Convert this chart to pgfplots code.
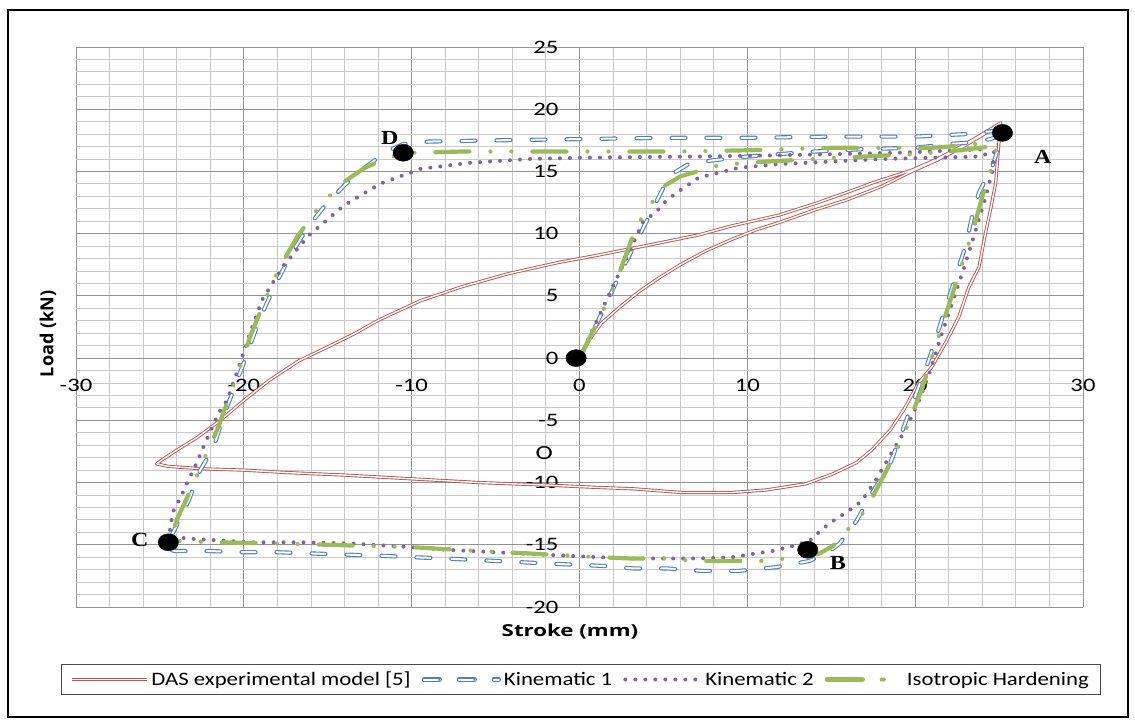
\documentclass[border=0pt]{standalone}
\usepackage{pgfplots}
\pgfplotsset{compat=1.18}
\usepackage{fontspec}
\setmainfont{Carlito}
\newfontfamily\tickfont{Carlito}[FakeStretch=1.3]
\newfontfamily\legfont{Carlito}[FakeStretch=1.2]
\newfontfamily\titlefont{Open Sans}[FakeStretch=1.35]
\newfontfamily\titlefontR{Open Sans}
\newfontfamily\letterfont{Liberation Serif}[FakeStretch=1.2]
\definecolor{exred}{HTML}{C0504D}
\definecolor{exblue}{HTML}{4F81BD}
\definecolor{expurple}{HTML}{8064A2}
\definecolor{exgreen}{HTML}{9BBB59}
\pgfplotsset{
  fulllegend/.style={legend image code/.code={\draw[##1] (0pt,0pt) -- (75pt,0pt);}},
  bluelegend/.style={legend image code/.code={\draw[##1] (2pt,0pt) -- (52pt,0pt); \path (0pt,0pt) -- (75pt,0pt);}},
  greenlegend/.style={legend image code/.code={\draw[##1] (2pt,0pt) -- (62pt,0pt); \path (0pt,0pt) -- (75pt,0pt);}},
}
\begin{document}
\begin{tikzpicture}
\path (-76pt,-116pt) rectangle (1059pt,607pt);
\draw[black, line width=1.5pt] (-68pt,-110pt) rectangle (1052pt,597pt);
\begin{axis}[
  at={(0pt,0pt)}, anchor=south west,
  scale only axis, width=1007pt, height=560pt,
  xmin=-30, xmax=30, ymin=-20, ymax=25,
  axis lines=box,
  axis line style={draw=none},
  xtick={-30,-20,...,30}, ytick={-20,-15,...,25},
  xticklabels={-30,-20,-10,0,10,20,30},
  yticklabels={-20,-15,-10,-5,0,5,10,15,20,25},
  minor x tick num=4, minor y tick num=4,
  grid=both,
  major grid style={draw=gray!85, line width=0.9pt},
  minor grid style={draw=gray!42, line width=0.9pt},
  major tick length=0pt, minor tick length=0pt,
  x tick label style={font=\tickfont\fontsize{19}{22}\selectfont, anchor=north, yshift=231pt},
  y tick label style={font=\tickfont\fontsize{19}{22}\selectfont, anchor=east, xshift=486pt},
  clip=false,
  legend columns=4,
  legend style={at={(0.5015,-0.1295)}, anchor=center, draw=gray!60!black, line width=1pt,
    font=\legfont\fontsize{19}{22}\selectfont, inner xsep=9pt, inner ysep=5pt,
    /tikz/every even column/.append style={column sep=8pt},
    nodes={inner xsep=3pt}},
  legend cell align=left,
]
% DAS experimental model
\addplot[draw=exred, double=white, double distance=1.4pt, line width=0.9pt, line join=round, fulllegend] coordinates {
(0,0) (0.6,1.5) (1.3,2.8) (2.4,4.1) (3.6,5.4) (4.8,6.5) (6,7.5) (7.5,8.6) (9,9.5) (10.5,10.3) (11.9,10.9)
(14,11.9) (15.9,12.7) (18,13.8) (19.8,15.0) (21.3,15.9) (22.6,16.8) (24,17.9) (25.1,18.9)
(25.0,17.5) (24.8,14.1) (24.5,12.0) (24.2,10.1) (23.8,7.3) (23.2,5.7) (22.6,3.3) (21.8,1.2) (21,-0.7)
(20.2,-2.0) (19.3,-4.2) (18.5,-5.8) (17.4,-7.4) (16.5,-8.4) (15.1,-9.3) (13.5,-10.1) (11.1,-10.6)
(9.1,-10.8) (6.1,-10.8) (3.2,-10.5) (1.2,-10.4) (-2,-10.2) (-6,-10.0) (-10,-9.7) (-14,-9.4)
(-17.4,-9.2) (-20,-9.0) (-22.4,-8.9) (-24.5,-8.7) (-25.2,-8.5)
(-24.9,-8.2) (-24,-7.4) (-22.8,-6.4) (-21.4,-5.0) (-20,-3.4) (-18.5,-1.8) (-16.7,-0.2) (-15,0.9)
(-13.5,1.9) (-11.9,3.1) (-9.5,4.6) (-7.1,5.7) (-4.2,6.8) (-1.2,7.7) (1.2,8.3) (4.2,9.1) (7.1,9.9)
(9,10.6) (11.9,11.5) (14,12.4) (15.9,13.3) (17.5,14.1) (19.8,15.1) (21.3,16.0) (22.6,16.9) (24,18.0) (25.1,18.9)
};
\addlegendentry{DAS experimental model [5]}
% Kinematic 1
\addplot[draw=exblue, double=white, double distance=2pt, line width=1.1pt, line cap=round, line join=round, dash pattern=on 14pt off 21pt, bluelegend] coordinates {
(0,0) (1,2.7) (2.5,7) (4,11) (5,13.7) (5.65,14.9) (6.5,15.6) (8,15.9) (10,16.2) (12,16.4) (14,16.6)
(17,16.8) (20,16.9) (22,17.2) (23,17.3) (24.5,17.6) (25.2,18.0)
(24.6,15.4) (23.8,13.3) (23.4,11.4) (23,9.0) (22.4,6.5) (21.9,4.4) (21.4,2.3) (20.8,-0.2) (19.9,-3.4)
(19.2,-6) (18.5,-8.5) (17.4,-10.9) (16.5,-13.1) (15.5,-14.9) (14.7,-15.7) (13.7,-16.3) (11.7,-16.8)
(9.5,-17.1) (7.3,-17.1) (5.2,-16.9) (3.2,-16.9) (1.4,-16.7) (-2,-16.5) (-5,-16.3) (-8,-16.1)
(-9.9,-16.0) (-11.5,-15.9) (-13.7,-15.8) (-15.9,-15.7) (-18,-15.6) (-20,-15.6) (-22.1,-15.5)
(-24.1,-15.5) (-24.7,-15.3)
(-24.5,-14.8) (-24.1,-13.7) (-23.3,-11.5) (-22.6,-9.0) (-21.8,-7.2) (-21.3,-5.0) (-20.6,-2.5)
(-19.9,0) (-19.1,3) (-18.2,5.7) (-17.2,8.3) (-16.2,10.5) (-15.2,12.2) (-14,13.9) (-12.8,15.3)
(-11.5,16.6) (-10.5,17.2) (-9,17.4) (-5,17.5) (0,17.6) (5,17.7) (10,17.7) (15,17.8) (20,17.8) (23,18.0) (25,18.3)
};
\addlegendentry{Kinematic 1}
% Kinematic 2
\addplot[draw=expurple, line width=4pt, line cap=round, line join=round, dash pattern=on 0pt off 10pt, fulllegend] coordinates {
(0,0) (1,2.9) (2,5.8) (3,8.6) (3.75,10.9) (4.6,11.8) (5.2,12.7) (5.8,13.3) (7.1,14.5) (9.5,15.3)
(12,15.6) (15,15.8) (18,16.0) (21,16.1) (23.8,16.2) (24.7,16.6)
(24.6,15) (24.1,12.5) (23.5,9.8) (22.9,7.2) (22.2,4.4) (21.6,2) (20.9,-1) (20.2,-3.5) (19.4,-5.8)
(18.6,-7.6) (17.7,-9.7) (16.8,-11.5) (15.9,-12.4) (15.3,-12.9) (14.5,-13.7) (13.7,-14.7) (12.7,-15.1)
(11.5,-15.5) (10.5,-15.7) (9.1,-16.0) (7.1,-16.1) (5.2,-16.1) (3.2,-16.1) (1.2,-16.0) (-2,-15.8)
(-5,-15.6) (-8,-15.4) (-9.9,-15.2) (-13.5,-14.9) (-16.5,-14.8) (-19.5,-14.8) (-23.4,-14.5) (-24.4,-14.3)
(-24.4,-13.6) (-24.2,-12.3) (-23.7,-11.0) (-23.3,-9.8) (-22.8,-8.4) (-22.3,-6.8) (-21.9,-5.6)
(-21.5,-4.4) (-21,-3.4) (-20.5,-1.5) (-20,0.5) (-19.5,2.5) (-18.9,4.7) (-17.6,7.5) (-16.1,9.9)
(-14,12.3) (-11.9,14) (-9.5,15.2) (-6.5,15.7) (-3,16.0) (0,16.1) (7.1,16.2) (12,16.3) (19,16.5) (24.4,16.8)
};
\addlegendentry{Kinematic 2}
% Isotropic hardening
\addplot[draw=exgreen, line width=4.2pt, line cap=round, line join=round, dash pattern=on 34pt off 21pt on 0pt off 21pt on 0pt off 21pt, greenlegend] coordinates {
(0,0) (1,2.7) (2,5.5) (3.4,10.6) (4.9,13.7) (6,14.6) (7,15.0) (8.3,15.5) (10,15.7) (14,16.0) (17,16.2)
(20,16.4) (22,16.6) (24.5,17.0) (24.9,17.3)
(24.6,15.5) (24,13) (23.5,10.5) (22.9,8) (22.3,5.5) (21.7,3) (21.1,0.5) (20.4,-2.5) (19.6,-5.2)
(18.9,-7.4) (18.3,-9.0) (17.6,-10.8) (17,-12.3) (15.9,-13.9) (15.1,-15.1) (14.3,-15.7) (12.9,-16.0)
(11,-16.3) (9,-16.3) (7.1,-16.3) (5,-16.1) (3,-16.1) (1.2,-16.0) (-3,-15.7) (-6,-15.5) (-9.9,-15.2)
(-12.5,-15.1) (-15,-15.0) (-18,-14.9) (-21.6,-14.8) (-23.8,-14.7) (-24.3,-14.4)
(-24,-13) (-23.1,-10.4) (-22.5,-8.5) (-21.6,-5.8) (-21,-3.6) (-20.3,-1) (-19.6,1.8) (-18.8,4.5)
(-17.9,7.2) (-16.8,9.8) (-15.6,12) (-14.3,13.9) (-12.8,15.3) (-11.2,16.2) (-10,16.5) (-7,16.6)
(0,16.6) (6,16.6) (10,16.7) (15,16.9) (21,16.9) (23,17.1) (24.8,17.4)
};
\addlegendentry{Isotropic Hardening}
% key points
\addplot[only marks, mark=*, mark size=8.5pt, mark options={fill=black, draw=black, xscale=1.2}, forget plot] coordinates {
(-0.2,0) (25.2,18.1) (13.6,-15.4) (-24.5,-14.8) (-10.5,16.5)
};
\node[font=\letterfont\bfseries\fontsize{20}{24}\selectfont] at (axis cs:27.6,16.2) {A};
\node[font=\letterfont\bfseries\fontsize{20}{24}\selectfont] at (axis cs:15.4,-16.5) {B};
\node[font=\letterfont\bfseries\fontsize{20}{24}\selectfont] at (axis cs:-26.2,-14.6) {C};
\node[font=\letterfont\bfseries\fontsize{20}{24}\selectfont] at (axis cs:-11.3,17.7) {D};
\node[font=\tickfont\fontsize{20}{24}\selectfont] at (axis cs:-2.1,-7.6) {O};
\end{axis}
\node[font=\titlefontR\bfseries\fontsize{18}{21}\selectfont, rotate=90] at (-28pt,273pt) {Load (kN)};
\node[font=\titlefont\bfseries\fontsize{16.5}{20}\selectfont] at (494pt,-25pt) {Stroke (mm)};
\end{tikzpicture}
\end{document}
